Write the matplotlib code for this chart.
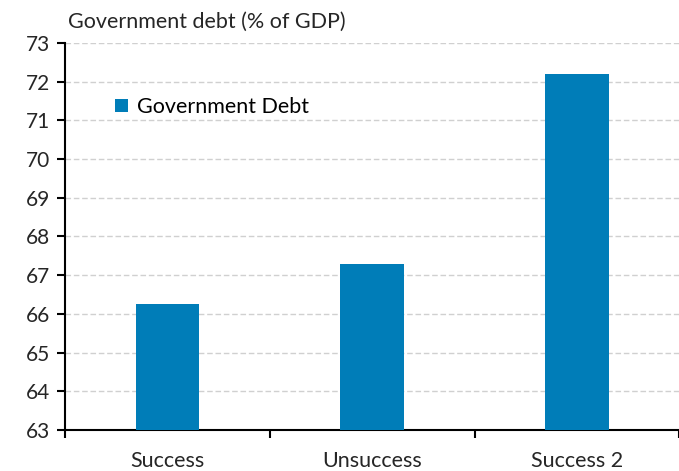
import numpy as np
import matplotlib.pyplot as plt

plt.rcParams['font.family'] = ['Lato', 'DejaVu Sans']

categories = ['Success', 'Unsuccess', 'Success 2']
debt = [66.25, 67.3, 72.2]
yticks = list(range(63, 74))

bar_color = '#007db8'
text_color = '#262626'

fig = plt.figure(figsize=(6.79, 4.71), dpi=100)
ax = fig.add_axes([0.0957, 0.087, 0.905, 0.822])

x = np.arange(len(categories))
ax.bar(x, debt, width=0.31, color=bar_color, label='Government Debt', zorder=3)

ax.set_ylim(63, 73)
ax.set_xlim(-0.5, len(categories) - 0.5)
ax.set_yticks(yticks)
ax.set_xticks(x)
ax.set_xticklabels(categories)
ax.set_xticks(np.arange(-0.5, len(categories)), minor=True)

ax.tick_params(axis='y', labelsize=15, length=6, width=1.5, pad=5, labelcolor=text_color)
ax.tick_params(axis='x', which='major', labelsize=15.5, length=0, pad=15, labelcolor=text_color)
ax.tick_params(axis='x', which='minor', length=6, width=1.5)

ax.grid(axis='y', color='#d0d0d0', linestyle=(0, (4, 2)), linewidth=1, zorder=0)
for s in ['top', 'right']:
    ax.spines[s].set_visible(False)
for s in ['left', 'bottom']:
    ax.spines[s].set_linewidth(1.5)

ax.legend(loc='upper left', bbox_to_anchor=(0.05, 0.91), frameon=False, fontsize=15.5,
          handlelength=0.6, handleheight=0.6, handletextpad=0.4)

fig.text(0.1, 0.975, 'Government debt (% of GDP)', fontsize=15.5, va='top', ha='left', color=text_color)

fig.savefig('out.png')
